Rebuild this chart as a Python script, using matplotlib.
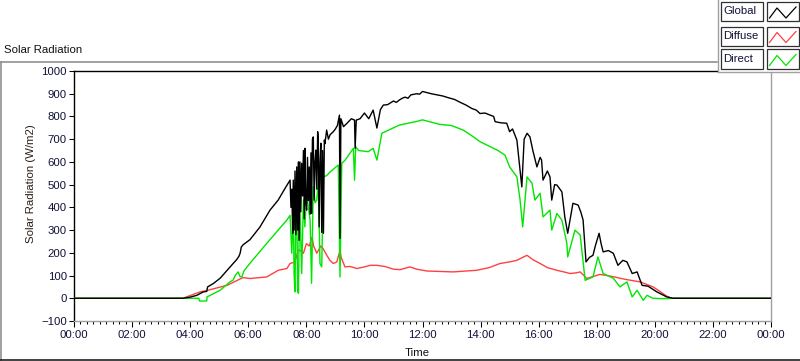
import matplotlib
matplotlib.use("Agg")
import matplotlib.pyplot as plt
from matplotlib.lines import Line2D
from matplotlib.patches import Rectangle
from matplotlib.ticker import MultipleLocator

plt.rcParams['font.family'] = ['Liberation Sans', 'DejaVu Sans']

# ---------------- data (time in hours, values in W/m2) ----------------
global_t = [0, 3.75, 4.0, 4.23, 4.45, 4.57, 4.6, 4.8, 5.03, 5.25, 5.48, 5.6, 5.68, 5.72,
            5.76, 5.82, 6.06, 6.4, 6.75, 7.03, 7.25, 7.44, 7.47, 7.50, 7.53, 7.55, 7.58,
            7.61, 7.64, 7.67, 7.70, 7.73, 7.75, 7.78, 7.81, 7.84, 7.87, 7.90, 7.93, 7.95,
            7.98, 8.01, 8.04, 8.07, 8.10, 8.13, 8.16, 8.18, 8.21, 8.24, 8.27, 8.30, 8.33,
            8.36, 8.39, 8.41, 8.44, 8.47, 8.50, 8.53, 8.56, 8.59, 8.62, 8.64, 8.70, 8.76,
            8.82, 8.93, 9.00, 9.07, 9.14, 9.16, 9.19, 9.28, 9.40, 9.55, 9.66, 9.68, 9.72,
            9.85, 10.0, 10.15, 10.3, 10.43, 10.55, 10.65, 10.8, 10.9, 11.0, 11.1, 11.2,
            11.3, 11.4, 11.5, 11.6, 11.8, 11.9, 12.0, 12.15, 12.3, 12.5, 12.7, 12.9, 13.1,
            13.3, 13.5, 13.7, 13.85, 13.98, 14.15, 14.33, 14.45, 14.5, 14.7, 14.9, 15.0,
            15.1, 15.25, 15.42, 15.5, 15.6, 15.7, 15.8, 15.94, 16.05, 16.1, 16.15, 16.3,
            16.39, 16.45, 16.55, 16.63, 16.8, 16.9, 17.0, 17.1, 17.18, 17.36, 17.45, 17.53,
            17.63, 17.75, 17.87, 17.95, 18.08, 18.15, 18.22, 18.4, 18.57, 18.73, 18.9,
            19.04, 19.22, 19.39, 19.56, 19.77, 20.07, 20.41, 20.62, 24]
global_v = [0, 0, 5, 13, 28, 30, 50, 65, 88, 120, 153, 170, 185, 198,
            225, 235, 258, 313, 388, 432, 480, 520, 400, 480, 286, 520, 300,
            560, 280, 578, 300, 600, 255, 600, 380, 594, 450, 650, 350, 660,
            420, 388, 620, 430, 578, 370, 640, 373, 700, 710, 432, 600, 652,
            480, 733, 700, 314, 600, 682, 290, 650, 286, 696, 680, 740, 700,
            720, 733, 745, 760, 806, 264, 790, 755, 770, 790, 784, 660, 784,
            790, 815, 790, 828, 749, 830, 850, 852, 860, 868, 862, 872,
            880, 885, 880, 895, 900, 898, 910, 905, 900, 895, 890, 882, 875,
            862, 850, 835, 828, 813, 815, 806, 800, 777, 772, 770, 733,
            745, 696, 490, 700, 726, 710, 650, 578, 620, 608, 520, 560,
            534, 432, 500, 498, 468, 358, 286, 360, 418, 410, 380, 344,
            160, 180, 189, 230, 286, 240, 204, 210, 198, 145, 167,
            160, 109, 116, 57, 53, 28, 6, 0, 0]

diffuse_t = [0, 3.75, 4.34, 4.6, 5.27, 5.82, 6.06, 6.64, 7.03, 7.33, 7.44, 7.61, 7.72,
             7.78, 7.9, 8.0, 8.1, 8.2, 8.25, 8.36, 8.5, 8.57, 8.7, 8.81, 8.93, 9.05,
             9.16, 9.2, 9.33, 9.5, 9.74, 10.0, 10.2, 10.43, 10.7, 11.0, 11.23, 11.57,
             11.8, 12.15, 12.6, 13.06, 13.5, 13.86, 14.3, 14.67, 15.0, 15.25, 15.45,
             15.6, 15.8, 16.05, 16.3, 16.63, 16.9, 17.08, 17.3, 17.43, 17.66, 17.85,
             18.11, 18.35, 18.57, 18.8, 19.04, 19.5, 19.94, 20.2, 20.4, 20.58, 24]
diffuse_v = [0, 0, 28, 35, 57, 91, 87, 94, 123, 131, 153, 160, 211,
             211, 198, 240, 230, 270, 230, 198, 230, 220, 190, 167, 153, 160,
             211, 180, 138, 140, 131, 138, 145, 145, 140, 128, 126, 138,
             128, 120, 118, 116, 120, 123, 135, 153, 160, 167, 180,
             189, 170, 153, 135, 123, 115, 109, 112, 116, 87, 95,
             105, 100, 95, 88, 82, 72, 50, 28, 10, 0, 0]

direct_t = [0, 3.75, 4.30, 4.32, 4.57, 4.58, 5.03, 5.37, 5.48, 5.55, 5.65, 5.72, 5.78,
            5.85, 6.06, 6.64, 7.03, 7.33, 7.44, 7.50, 7.55, 7.58, 7.61, 7.64, 7.67,
            7.70, 7.73, 7.76, 7.78, 7.84, 7.90, 7.95, 8.01, 8.07, 8.13, 8.18, 8.24,
            8.30, 8.36, 8.41, 8.47, 8.53, 8.59, 8.70, 8.82, 8.95, 9.10, 9.16, 9.22,
            9.35, 9.5, 9.62, 9.66, 9.70, 9.8, 10.13, 10.3, 10.43, 10.6, 11.2, 11.5,
            11.8, 12.0, 12.3, 12.6, 13.0, 13.4, 13.7, 13.98, 14.33, 14.6, 14.84, 15.0,
            15.25, 15.36, 15.45, 15.6, 15.77, 15.87, 16.05, 16.15, 16.39, 16.45,
            16.63, 16.8, 16.97, 17.0, 17.25, 17.43, 17.6, 17.87, 18.04, 18.22, 18.57,
            18.8, 19.04, 19.22, 19.39, 19.6, 19.73, 19.94, 20.3, 20.62, 24]
direct_v = [0, 0, 0, -12, -12, 6, 35, 72, 80, 100, 116, 95, 94,
            120, 154, 242, 300, 344, 365, 198, 388, 100, 28, 420, 432,
            30, 22, 388, 400, 109, 432, 314, 462, 400, 344, 66, 490,
            420, 432, 520, 153, 138, 534, 540, 556, 570, 586, 94, 593,
            610, 638, 660, 520, 667, 650, 645, 660, 608, 726, 762, 770,
            778, 785, 775, 765, 760, 740, 715, 689, 667, 650, 630, 578,
            534, 432, 314, 534, 506, 432, 462, 358, 388, 300,
            373, 344, 242, 182, 300, 278, 79, 94, 182, 109, 88,
            50, 72, 6, 35, -9, 13, 0, -2, 0, 0]

series_names = ["Global", "Diffuse", "Direct"]
series_colors = ["#000000", "#ff4040", "#00e600"]

W, H = 800, 361
def fx(px): return px / W
def fy(py): return 1 - py / H

fig = plt.figure(figsize=(8, 3.61), dpi=100)
fig.patch.set_facecolor("white")

ax = fig.add_axes([fx(74), fy(321), 697 / W, 250 / H])
ax.plot(diffuse_t, diffuse_v, color=series_colors[1], lw=1.0, zorder=2)
ax.plot(direct_t, direct_v, color=series_colors[2], lw=1.0, zorder=3)
ax.plot(global_t, global_v, color=series_colors[0], lw=1.0, zorder=4)

ax.set_xlim(0, 24)
ax.set_ylim(-100, 1000)
ax.xaxis.set_minor_locator(MultipleLocator(2 / 9))
ax.set_xticks(range(0, 25, 2))
ax.set_xticklabels(["%02d:00" % (h % 24) for h in range(0, 25, 2)])
ax.yaxis.set_major_locator(MultipleLocator(100))

tick_col = "#101038"
ax.tick_params(axis='y', which='major', length=3.6, width=0.75, pad=1.5,
               labelsize=8.2, labelcolor=tick_col, color="black")
ax.tick_params(axis='x', which='major', length=4.3, width=0.75, pad=2.5,
               labelsize=8.2, labelcolor=tick_col, color="black")
ax.tick_params(axis='x', which='minor', length=2.5, width=0.75, color="black")

for s in ["left", "top"]:
    ax.spines[s].set_color("black")
    ax.spines[s].set_linewidth(1.0)
for s in ["right", "bottom"]:
    ax.spines[s].set_color("#a0a0a0")
    ax.spines[s].set_linewidth(1.0)

# axis labels
fig.text(fx(31), fy(184), "Solar Radiation (W/m2)", rotation=90, ha="center",
         va="center", fontsize=8.2, color="#2a2010")
fig.text(fx(417), fy(353), "Time", ha="center", va="center", fontsize=8.2,
         color="#101010")

# title and panel frame
fig.text(fx(4), fy(50), "Solar Radiation", ha="left", va="center", fontsize=8.2,
         color="#101010")
fig.add_artist(Line2D([fx(0), fx(717)], [fy(61.5), fy(61.5)], color="#909090", lw=1.2))
fig.add_artist(Line2D([fx(1), fx(1)], [fy(61.5), fy(359.5)], color="#909090", lw=1.2))
fig.add_artist(Line2D([fx(0), fx(800)], [fy(359.5), fy(359.5)], color="#202020", lw=1.2))

# legend panel
fig.add_artist(Rectangle((fx(717.5), fy(71.5)), fx(83), 71.5 / H, facecolor="white",
                         edgecolor="none", zorder=5))
fig.add_artist(Line2D([fx(717.5), fx(717.5)], [fy(0), fy(71.5)], color="#a0a0a0", lw=1.0, zorder=6))
fig.add_artist(Line2D([fx(717.5), fx(800)], [fy(71.5), fy(71.5)], color="#a0a0a0", lw=1.0, zorder=6))

row_tops = [2, 26.5, 49.5]
row_h = 19
for name, col, top in zip(series_names, series_colors, row_tops):
    fig.add_artist(Rectangle((fx(721), fy(top + row_h)), fx(42), row_h / H,
                             facecolor="white", edgecolor="#303030", lw=0.9, zorder=7))
    fig.text(fx(723), fy(top + row_h / 2), name, ha="left", va="center",
             fontsize=8.2, color="#101038", zorder=8)
    fig.add_artist(Rectangle((fx(767), fy(top + row_h)), fx(32), row_h / H,
                             facecolor="white", edgecolor="#303030", lw=0.9, zorder=7))
    zx = [769.5, 777, 786, 796]
    zy = [top + 16, top + 6, top + 16, top + 5]
    fig.add_artist(Line2D([fx(v) for v in zx], [fy(v) for v in zy], color=col,
                          lw=0.9, zorder=8))

fig.savefig("out.png", dpi=100, facecolor="white")
